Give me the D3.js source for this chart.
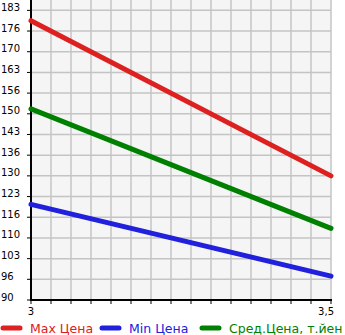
<!DOCTYPE html>
<html>
<head>
<meta charset="utf-8">
<script src="https://cdn.jsdelivr.net/npm/d3@7"></script>
<style>
  html, body { margin: 0; padding: 0; background: #ffffff; }
  svg { display: block; }
</style>
</head>
<body>
<svg id="chart" width="345" height="335"></svg>
<script>
// Price by engine volume
const xValues = [3, 3.5];
const maxPrice = [180, 130];
const minPrice = [120.8, 97.7];
const avgPrice = [151.6, 113.1];
const yTickValues = [90, 96.67, 103.33, 110, 116.67, 123.33, 130, 136.67, 143.33, 150, 156.67, 163.33, 170, 176.67, 183.33];
const xTickLabels = ["3", "3,5"];
const seriesNames = ["Max Цена", "Min Цена", "Сред.Цена, т.йен"];
const seriesColors = ["#dd2020", "#2020dd", "#008000"];

const svg = d3.select("#chart");
const plotLeft = 31, plotRight = 331, plotTop = 0, plotBottom = 300;

const x = d3.scaleLinear().domain([3, 3.5]).range([plotLeft, plotRight]);
const y = d3.scaleLinear().domain([90, 186.67]).range([plotBottom, plotTop]);

// plot background
svg.append("rect")
  .attr("x", plotLeft).attr("y", plotTop)
  .attr("width", plotRight - plotLeft).attr("height", plotBottom - plotTop)
  .attr("fill", "#f5f5f5");

// grid
const xGrid = d3.range(0, 16).map(i => 3 + i * (0.5 / 15));
svg.append("g").selectAll("line").data(xGrid.slice(1)).join("line")
  .attr("x1", d => x(d)).attr("x2", d => x(d))
  .attr("y1", plotTop).attr("y2", plotBottom)
  .attr("stroke", "#c4c4c4").attr("stroke-width", 1.5);
svg.append("g").selectAll("line").data(yTickValues.slice(1)).join("line")
  .attr("x1", plotLeft).attr("x2", plotRight)
  .attr("y1", d => y(d)).attr("y2", d => y(d))
  .attr("stroke", "#c4c4c4").attr("stroke-width", 1.5);

// y axis ticks and labels
const yAxis = svg.append("g");
yAxis.selectAll("line").data(yTickValues).join("line")
  .attr("x1", plotLeft - 4).attr("x2", plotLeft)
  .attr("y1", d => y(d)).attr("y2", d => y(d))
  .attr("stroke", "#000").attr("stroke-width", 1);
yAxis.selectAll("text").data(yTickValues).join("text")
  .attr("x", 1).attr("y", d => y(d) + 0.5)
  .attr("font-family", "DejaVu Sans, sans-serif")
  .attr("font-size", 10)
  .attr("fill", "#000")
  .text(d => Math.floor(d));

// x axis ticks
svg.append("g").selectAll("line").data(xGrid).join("line")
  .attr("x1", d => x(d)).attr("x2", d => x(d))
  .attr("y1", plotBottom).attr("y2", plotBottom + 4)
  .attr("stroke", "#000").attr("stroke-width", 1);
svg.append("g").selectAll("text").data(xValues).join("text")
  .attr("x", (d, i) => i === 0 ? x(d) : x(d) + 3)
  .attr("y", 315)
  .attr("text-anchor", (d, i) => i === 0 ? "middle" : "end")
  .attr("font-family", "DejaVu Sans, sans-serif")
  .attr("font-size", 10)
  .attr("fill", "#000")
  .text((d, i) => xTickLabels[i]);

// axis lines
svg.append("line").attr("x1", plotLeft).attr("x2", plotLeft).attr("y1", plotTop).attr("y2", plotBottom + 1)
  .attr("stroke", "#000").attr("stroke-width", 2);
svg.append("line").attr("x1", plotLeft - 1).attr("x2", plotRight + 1).attr("y1", plotBottom).attr("y2", plotBottom)
  .attr("stroke", "#000").attr("stroke-width", 2);

// series lines
const series = [maxPrice, minPrice, avgPrice];
const line = d3.line().x((d, i) => x(xValues[i])).y(d => y(d));
svg.append("g").selectAll("path").data(series).join("path")
  .attr("d", d => line(d))
  .attr("fill", "none")
  .attr("stroke", (d, i) => seriesColors[i])
  .attr("stroke-width", 5)
  .attr("stroke-linecap", "round");

// legend
const legendX = [0, 99, 199];
const legend = svg.append("g").selectAll("g").data(seriesNames).join("g")
  .attr("transform", (d, i) => `translate(${legendX[i]},328)`);
legend.append("line")
  .attr("x1", 3).attr("x2", 20).attr("y1", 0).attr("y2", 0)
  .attr("stroke", (d, i) => seriesColors[i])
  .attr("stroke-width", 5).attr("stroke-linecap", "round");
legend.append("text")
  .attr("x", 30).attr("y", 5)
  .attr("font-family", "DejaVu Sans, sans-serif")
  .attr("font-size", 12.5)
  .attr("fill", (d, i) => seriesColors[i])
  .text(d => d);
</script>
</body>
</html>
